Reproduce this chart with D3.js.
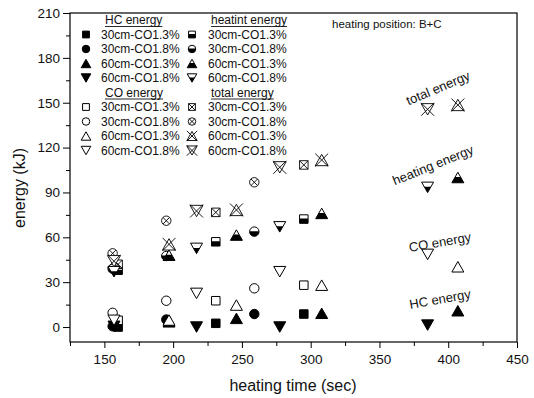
<!DOCTYPE html>
<html>
<head>
<meta charset="utf-8">
<script src="https://cdn.jsdelivr.net/npm/d3@7"></script>
<style>
  html, body { margin: 0; padding: 0; background: #fff; }
  svg { display: block; font-family: Arial, "Liberation Sans", sans-serif; }
</style>
</head>
<body>
<svg id="chart" width="534" height="398"></svg>
<script>
// ---------------- data ----------------
const configs = ["30cm-CO1.3%", "30cm-CO1.8%", "60cm-CO1.3%", "60cm-CO1.8%"];
const shapes  = ["square", "circle", "triUp", "triDown"];
const energyTypes = ["HC energy", "CO energy", "heatint energy", "total energy"];
const styles = ["filled", "open", "half", "crossed"];

const time_30_13  = [160, 231, 295];
const hc_30_13    = [0, 2.5, 8.7];
const co_30_13    = [4.5, 17.6, 28];
const heat_30_13  = [38, 57, 72.2];
const total_30_13 = [42, 76.7, 108.4];

const time_30_18  = [156, 195, 259];
const hc_30_18    = [0.5, 5, 8.7];
const co_30_18    = [9.5, 17.6, 25.9];
const heat_30_18  = [39, 47.5, 63.8];
const total_30_18 = [49.3, 71.1, 96.8];

const time_60_13  = [197, 246, 308, 407];
const hc_60_13    = [3.5, 5.8, 9.2, 10.9];
const co_60_13    = [4.7, 14.7, 28, 40.3];
const heat_60_13  = [48, 61.5, 76, 100];
const total_60_13 = [55.3, 78.3, 111.7, 148.5];

const time_60_18  = [157, 217, 277.5, 385];
const hc_60_18    = [0.5, 0, 0, 1.3];
const co_60_18    = [4.5, 22.5, 37, 48.6];
const heat_60_18  = [37, 52.6, 67, 93.4];
const total_60_18 = [44, 77.6, 106.8, 145.6];

const xTicks = [150, 200, 250, 300, 350, 400, 450];
const yTicks = [0, 30, 60, 90, 120, 150, 180, 210];

const annotations = [
  {text: "total energy",   x: 438, y: 88,  angle: -23},
  {text: "heating energy", x: 433, y: 165, angle: -22},
  {text: "CO energy",      x: 440, y: 242, angle: -10},
  {text: "HC energy",      x: 440, y: 299, angle: -10}
];

const series = [
  {shape: "square",  t: time_30_13, vals: [hc_30_13, co_30_13, heat_30_13, total_30_13]},
  {shape: "circle",  t: time_30_18, vals: [hc_30_18, co_30_18, heat_30_18, total_30_18]},
  {shape: "triUp",   t: time_60_13, vals: [hc_60_13, co_60_13, heat_60_13, total_60_13]},
  {shape: "triDown", t: time_60_18, vals: [hc_60_18, co_60_18, heat_60_18, total_60_18]}
];

// ---------------- layout ----------------
const svg = d3.select("#chart");
const L = 70, R = 517, T = 13, B = 342;
const x = d3.scaleLinear().domain([125, 450]).range([L, R]);
const y = d3.scaleLinear().domain([-10, 210]).range([B, T]);

const defs = svg.append("defs");
defs.append("clipPath").attr("id", "bottomHalf")
  .append("rect").attr("x", -20).attr("y", -0.5).attr("width", 40).attr("height", 20);

// ---------------- marker paths ----------------
function shapePath(shape, k) {
  if (shape === "square") { const s = 8.5 * k; return `M${-s/2},${-s/2}h${s}v${s}h${-s}Z`; }
  if (shape === "circle") { const r = 4.7 * k; return `M${r},0A${r},${r} 0 1,1 ${-r},0A${r},${r} 0 1,1 ${r},0Z`; }
  const w = 12 * k, h = 10.5 * k;
  if (shape === "triUp") return `M0,${-h/2}L${w/2},${h/2}L${-w/2},${h/2}Z`;
  return `M${-w/2},${-h/2}L${w/2},${-h/2}L0,${h/2}Z`;
}
function crossPath(shape, k) {
  if (shape === "square") { const s = 8.5 * k / 2; return `M${-s},${-s}L${s},${s}M${s},${-s}L${-s},${s}`; }
  if (shape === "circle") { const r = 4.7 * k * 0.7071; return `M${-r},${-r}L${r},${r}M${r},${-r}L${-r},${r}`; }
  const w = 12 * k / 2, h = 12 * k / 2;
  return `M${-w},${-h}L${w},${h}M${w},${-h}L${-w},${h}`;
}
function drawMarker(g, shape, style, k) {
  if (style === "filled") {
    g.append("path").attr("d", shapePath(shape, k)).attr("fill", "#000").attr("stroke", "#000").attr("stroke-width", 1);
  } else if (style === "open") {
    g.append("path").attr("d", shapePath(shape, k)).attr("fill", "#fff").attr("stroke", "#000").attr("stroke-width", 1);
  } else if (style === "half") {
    g.append("path").attr("d", shapePath(shape, k)).attr("fill", "#fff").attr("stroke", "none");
    g.append("path").attr("d", shapePath(shape, k)).attr("fill", "#000").attr("clip-path", "url(#bottomHalf)");
    g.append("path").attr("d", shapePath(shape, k)).attr("fill", "none").attr("stroke", "#000").attr("stroke-width", 1);
  } else {
    const kk = (shape === "triUp" || shape === "triDown") ? k * 1.08 : k;
    g.append("path").attr("d", shapePath(shape, kk)).attr("fill", "#fff").attr("stroke", "#000").attr("stroke-width", 0.9);
    g.append("path").attr("d", crossPath(shape, kk)).attr("fill", "none").attr("stroke", "#000").attr("stroke-width", 0.9);
  }
}

// ---------------- axes ----------------
const text = "#111";
svg.append("rect").attr("x", L).attr("y", T).attr("width", R - L).attr("height", B - T)
  .attr("fill", "none").attr("stroke", "#000").attr("stroke-width", 1.2);

const xAxis = svg.append("g").attr("transform", `translate(0,${B})`)
  .call(d3.axisBottom(x).tickValues(d3.range(125, 451, 25)).tickSize(4).tickFormat(""));
xAxis.select(".domain").remove();
xAxis.selectAll(".tick line").attr("stroke", "#000")
  .attr("y2", d => xTicks.includes(d) ? 6 : 4);
const xLab = svg.append("g").attr("transform", `translate(0,${B})`)
  .call(d3.axisBottom(x).tickValues(xTicks).tickSize(6).tickPadding(6));
xLab.select(".domain").remove();
xLab.selectAll(".tick line").remove();
xLab.selectAll("text").attr("font-size", 13.5).attr("fill", text).attr("font-family", "Arial, 'Liberation Sans', sans-serif");

const yAxis = svg.append("g").attr("transform", `translate(${L},0)`)
  .call(d3.axisLeft(y).tickValues(d3.range(-15, 211, 15).filter(v => v >= -10)).tickSize(4).tickFormat(""));
yAxis.select(".domain").remove();
yAxis.selectAll(".tick line").attr("stroke", "#000")
  .attr("x2", d => yTicks.includes(d) ? -7 : -4);
const yLab = svg.append("g").attr("transform", `translate(${L},0)`)
  .call(d3.axisLeft(y).tickValues(yTicks).tickSize(7).tickPadding(3));
yLab.select(".domain").remove();
yLab.selectAll(".tick line").remove();
yLab.selectAll("text").attr("font-size", 13.5).attr("fill", text).attr("font-family", "Arial, 'Liberation Sans', sans-serif");

svg.append("text").attr("x", 293).attr("y", 391).attr("text-anchor", "middle")
  .attr("font-size", 16).attr("fill", text).text("heating time (sec)");
svg.append("text").attr("transform", "translate(25,188) rotate(-90)").attr("text-anchor", "middle")
  .attr("font-size", 16).attr("fill", text).text("energy (kJ)");

// ---------------- data points ----------------
const plot = svg.append("g");
series.forEach(s => {
  s.vals.forEach((vals, ei) => {
    vals.forEach((v, i) => {
      const g = plot.append("g").attr("transform", `translate(${x(s.t[i])},${y(v)})`);
      drawMarker(g, s.shape, styles[ei], 1);
    });
  });
});

// ---------------- legend ----------------
const rowH = 14.5, top0 = 20;
const cols = [{sx: 86, tx: 101, types: [0, 1]}, {sx: 192, tx: 208, types: [2, 3]}];
cols.forEach(c => {
  c.types.forEach((ei, gi) => {
    const hy = top0 + gi * 5 * rowH;
    const ht = svg.append("text").attr("x", c.tx + (ei < 2 ? 4 : 3)).attr("y", hy + 4)
      .attr("font-size", 12).attr("fill", text).text(energyTypes[ei]);
    const bb = ht.node().getBBox();
    svg.append("line").attr("x1", bb.x).attr("x2", bb.x + bb.width)
      .attr("y1", hy + 6.5).attr("y2", hy + 6.5).attr("stroke", text).attr("stroke-width", 0.9);
    configs.forEach((cfg, ci) => {
      const ry = hy + (ci + 1) * rowH;
      const g = svg.append("g").attr("transform", `translate(${c.sx},${ry})`);
      drawMarker(g, shapes[ci], styles[ei], 0.8);
      svg.append("text").attr("x", c.tx).attr("y", ry + 4.2)
        .attr("font-size", 12).attr("fill", text).text(cfg);
    });
  });
});

svg.append("text").attr("x", 332).attr("y", 28).attr("font-size", 11.5).attr("fill", text)
  .text("heating position: B+C");

// ---------------- annotations ----------------
annotations.forEach(a => {
  svg.append("text").attr("transform", `translate(${a.x},${a.y}) rotate(${a.angle})`)
    .attr("text-anchor", "middle").attr("dy", "0.35em").attr("font-size", 13).attr("fill", text)
    .text(a.text);
});
</script>
</body>
</html>
